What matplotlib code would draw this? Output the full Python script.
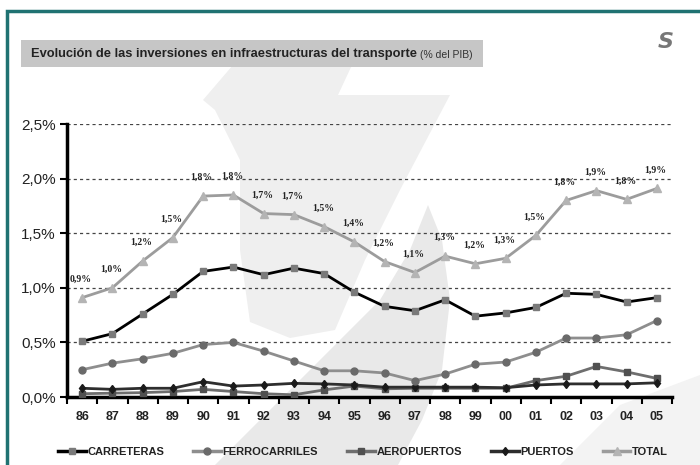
import matplotlib
matplotlib.use("Agg")
import matplotlib.pyplot as plt
from matplotlib.patches import Rectangle, Polygon
from matplotlib.lines import Line2D
from matplotlib.ticker import FixedLocator, FuncFormatter

years = ["86", "87", "88", "89", "90", "91", "92", "93", "94", "95",
         "96", "97", "98", "99", "00", "01", "02", "03", "04", "05"]
carreteras = [0.51, 0.58, 0.76, 0.94, 1.15, 1.19, 1.12, 1.18, 1.13, 0.96,
              0.83, 0.79, 0.89, 0.74, 0.77, 0.82, 0.95, 0.94, 0.87, 0.91]
ferrocarriles = [0.25, 0.31, 0.35, 0.40, 0.48, 0.50, 0.42, 0.33, 0.24, 0.24,
                 0.22, 0.15, 0.21, 0.30, 0.32, 0.41, 0.54, 0.54, 0.57, 0.70]
aeropuertos = [0.03, 0.035, 0.04, 0.05, 0.07, 0.05, 0.03, 0.02, 0.065, 0.10,
               0.075, 0.08, 0.08, 0.08, 0.08, 0.15, 0.19, 0.28, 0.23, 0.17]
puertos = [0.08, 0.07, 0.08, 0.08, 0.14, 0.10, 0.11, 0.125, 0.12, 0.11,
           0.09, 0.09, 0.09, 0.09, 0.085, 0.11, 0.12, 0.12, 0.12, 0.13]
total = [0.91, 1.00, 1.245, 1.46, 1.84, 1.85, 1.68, 1.67, 1.56, 1.42,
         1.24, 1.14, 1.29, 1.22, 1.27, 1.48, 1.80, 1.89, 1.81, 1.91]
total_labels = ["0,9%", "1,0%", "1,2%", "1,5%", "1,8%", "1,8%", "1,7%", "1,7%", "1,5%", "1,4%",
                "1,2%", "1,1%", "1,3%", "1,2%", "1,3%", "1,5%", "1,8%", "1,9%", "1,8%", "1,9%"]
y_ticks = [0.0, 0.5, 1.0, 1.5, 2.0, 2.5]
series_names = ["CARRETERAS", "FERROCARRILES", "AEROPUERTOS", "PUERTOS", "TOTAL"]

W, H = 700, 465
fig = plt.figure(figsize=(7, 4.65), dpi=100)
fig.patch.set_facecolor("white")

def fx(px):
    return px / W

def fy(py):
    return 1 - py / H

def add_poly(pts, color):
    fig.patches.append(Polygon([(fx(a), fy(b)) for a, b in pts], closed=True,
                               transform=fig.transFigure, facecolor=color,
                               edgecolor="none", zorder=-5))

# watermark shapes (very light gray)
add_poly([(203, 100), (233, 65), (352, 65), (338, 95), (450, 95), (400, 190),
          (365, 260), (335, 330), (290, 338), (250, 322), (240, 250), (240, 160), (215, 110)], "#efefef")
add_poly([(215, 465), (260, 420), (320, 360), (380, 300), (410, 250), (428, 205),
          (442, 240), (450, 300), (442, 370), (422, 420), (398, 465)], "#e9e9e9")
add_poly([(560, 465), (620, 405), (700, 375), (700, 465)], "#f3f3f3")

# teal frame
fig.patches.append(Rectangle((fx(7), fy(480)), fx(720), fy(11) - fy(480),
                             transform=fig.transFigure, facecolor="none",
                             edgecolor="#1f7272", linewidth=2.5, zorder=1))

# title box
fig.patches.append(Rectangle((fx(21), fy(67)), fx(483) - fx(21), fy(40) - fy(67),
                             transform=fig.transFigure, facecolor="#c6c6c6",
                             edgecolor="none", zorder=1))
sans = ["Liberation Sans", "DejaVu Sans"]
t1 = fig.text(fx(31), fy(54), "Evolución de las inversiones en infraestructuras del transporte",
              fontsize=9.3, fontweight="bold", family=sans, color="#222222",
              va="center", ha="left", zorder=2)
fig.canvas.draw()
bb = t1.get_window_extent()
fig.text(bb.x1 / W + 0.004, fy(54.5), "(% del PIB)", fontsize=7.5, family=sans,
         color="#333333", va="center", ha="left", zorder=2)
fig.text(fx(666), fy(42), "S", fontsize=16, fontweight="bold", style="italic",
         color="#777777", ha="center", va="center", family="DejaVu Sans")

ax = fig.add_axes([fx(67), fy(397), fx(672) - fx(67), fy(124) - fy(397)])
ax.set_facecolor("none")
x = list(range(len(years)))

ax.plot(x, carreteras, color="black", lw=2.0, marker="s", ms=5,
        mfc="#7a7a7a", mec="#7a7a7a", zorder=4)
ax.plot(x, ferrocarriles, color="#8e8e8e", lw=2.0, marker="o", ms=5,
        mfc="#6a6a6a", mec="#6a6a6a", zorder=4)
ax.plot(x, aeropuertos, color="#6e6e6e", lw=2.0, marker="s", ms=4.5,
        mfc="#505050", mec="#505050", zorder=3)
ax.plot(x, puertos, color="#2e2e2e", lw=2.0, marker="d", ms=4.5,
        mfc="#1a1a1a", mec="#1a1a1a", zorder=3)
ax.plot(x, total, color="#9c9c9c", lw=2.0, marker="^", ms=5.5,
        mfc="#b4b4b4", mec="#b4b4b4", zorder=4)

for xi, yi, lab in zip(x, total, total_labels):
    ax.annotate(lab, (xi, yi), xytext=(-1, 10), textcoords="offset points",
                ha="center", va="bottom", fontsize=7, fontweight="bold",
                family=["Liberation Serif", "DejaVu Serif"], color="#222222", zorder=5)

ax.set_xlim(-0.5, len(years) - 0.5)
ax.set_ylim(0, 2.5)
ax.set_xticks(x)
ax.set_xticklabels(years, fontsize=9, fontweight="bold", family=sans, color="#222222")
ax.xaxis.set_minor_locator(FixedLocator([i - 0.5 for i in range(len(years) + 1)]))
ax.tick_params(axis="x", which="major", length=0, pad=10)
ax.tick_params(axis="x", which="minor", length=5, width=1.5, direction="out", color="black")
ax.set_yticks(y_ticks)
ax.yaxis.set_major_formatter(FuncFormatter(lambda v, p: f"{v:.1f}%".replace(".", ",")))
ax.tick_params(axis="y", length=5, width=1.5, direction="out", labelsize=11,
               labelcolor="#222222", pad=3)
for lab in ax.get_yticklabels():
    lab.set_family(sans)

for yt in y_ticks[1:]:
    ax.axhline(yt, color="#444444", lw=0.9, ls=(0, (2.5, 2.5)), zorder=1)

for s in ["top", "right"]:
    ax.spines[s].set_visible(False)
ax.spines["left"].set_linewidth(2.5)
ax.spines["bottom"].set_linewidth(2.5)

handles = [
    Line2D([], [], color="black", lw=2.5, marker="s", ms=5, mfc="#7a7a7a", mec="#7a7a7a"),
    Line2D([], [], color="#8e8e8e", lw=2.5, marker="o", ms=5, mfc="#6a6a6a", mec="#6a6a6a"),
    Line2D([], [], color="#6e6e6e", lw=2.5, marker="s", ms=4.5, mfc="#505050", mec="#505050"),
    Line2D([], [], color="#2e2e2e", lw=2.5, marker="d", ms=4.5, mfc="#1a1a1a", mec="#1a1a1a"),
    Line2D([], [], color="#9c9c9c", lw=2.5, marker="^", ms=5.5, mfc="#b4b4b4", mec="#b4b4b4"),
]
leg = fig.legend(handles, series_names, loc="center", bbox_to_anchor=(fx(363), fy(452)),
                 ncol=5, frameon=False, handlelength=2.5, handletextpad=0.15,
                 columnspacing=2.6, prop={"family": sans, "weight": "bold", "size": 8})
for t in leg.get_texts():
    t.set_color("#222222")

fig.savefig("out.png", dpi=100)
